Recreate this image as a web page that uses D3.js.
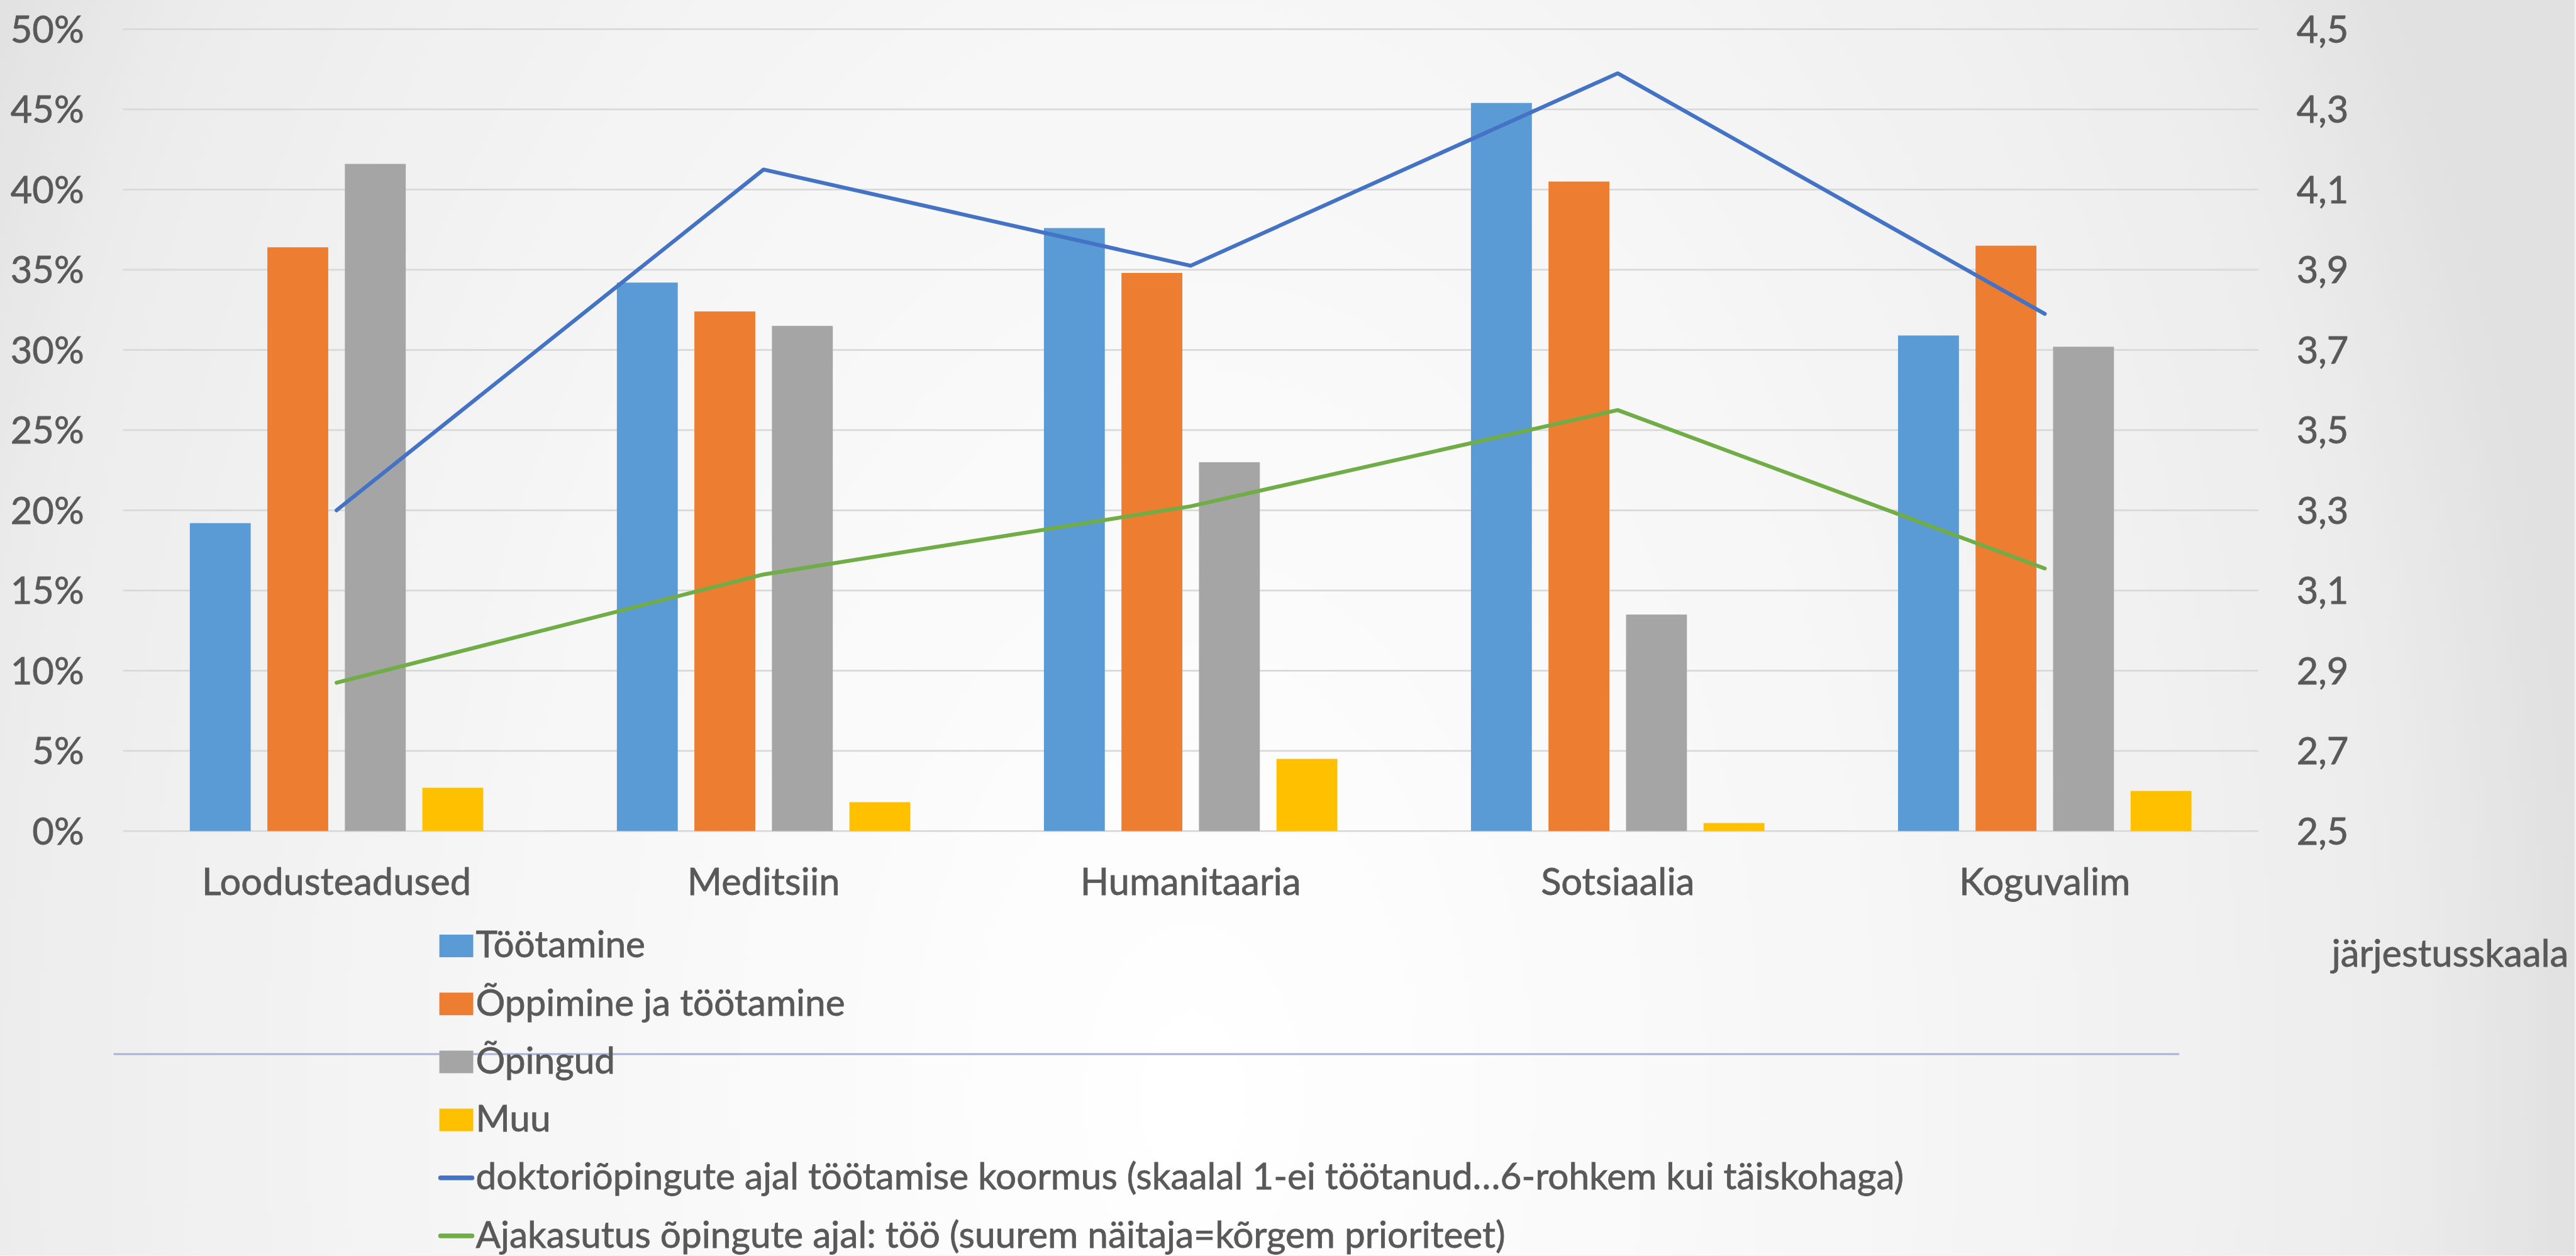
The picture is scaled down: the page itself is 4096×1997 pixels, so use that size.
<!DOCTYPE html>
<html>
<head>
<meta charset="utf-8">
<script src="https://cdn.jsdelivr.net/npm/d3@7"></script>
<style>
  html, body { margin: 0; padding: 0; background: #f2f2f2; overflow: hidden; }
  svg { display: block; }
</style>
</head>
<body>
<svg id="chart" width="4096" height="1997"></svg>
<script>
// ---- data ----
const categories = ["Loodusteadused", "Meditsiin", "Humanitaaria", "Sotsiaalia", "Koguvalim"];
const barSeriesNames = ["Töötamine", "Õppimine ja töötamine", "Õpingud", "Muu"];
const tootamine = [0.192, 0.342, 0.376, 0.454, 0.309];
const oppimineJaTootamine = [0.364, 0.324, 0.348, 0.405, 0.365];
const opingud = [0.416, 0.315, 0.230, 0.135, 0.302];
const muu = [0.027, 0.018, 0.045, 0.005, 0.025];
const lineSeriesNames = [
  "doktoriõpingute ajal töötamise koormus (skaalal 1-ei töötanud…6-rohkem kui täiskohaga)",
  "Ajakasutus õpingute ajal: töö (suurem näitaja=kõrgem prioriteet)"
];
const koormus = [3.30, 4.15, 3.91, 4.39, 3.79];
const ajakasutus = [2.87, 3.14, 3.31, 3.55, 3.155];
const leftTicks = [0, 0.05, 0.10, 0.15, 0.20, 0.25, 0.30, 0.35, 0.40, 0.45, 0.50];
const rightTicks = [2.5, 2.7, 2.9, 3.1, 3.3, 3.5, 3.7, 3.9, 4.1, 4.3, 4.5];
const rightAxisTitle = "järjestusskaala";

const barColors = ["#5B9BD5", "#ED7D31", "#A5A5A5", "#FFC000"];
const lineColors = ["#4472C4", "#70AD47"];
const barData = [tootamine, oppimineJaTootamine, opingud, muu];
const lineData = [koormus, ajakasutus];

// ---- layout (reference pixel space, scaled by 0.998) ----
const S = 0.998;
const svg = d3.select("#chart");
const defs = svg.append("defs");
const grad = defs.append("radialGradient")
  .attr("id", "bg").attr("gradientUnits", "userSpaceOnUse")
  .attr("cx", 1900).attr("cy", 1750).attr("r", 2200)
  .attr("gradientTransform", "translate(1900,1750) scale(1,1.6) translate(-1900,-1750)");
[[0, "#ffffff"], [0.5, "#f6f6f6"], [0.77, "#efefef"], [0.87, "#ececec"], [1, "#e1e1e1"]]
  .forEach(([o, c]) => grad.append("stop").attr("offset", o).attr("stop-color", c));

const root = svg.append("g").attr("transform", `scale(${S})`);
root.append("rect").attr("x", 0).attr("y", 0).attr("width", 4102).attr("height", 2000).attr("fill", "url(#bg)");

const FONT = "Lato, 'Open Sans', sans-serif";
const TXT = "#595959";
const TSTROKE = 0.8;

function fitSize(str, target) {
  const p = root.append("text").attr("font-family", FONT).attr("font-size", 100).text(str);
  const w = p.node().getComputedTextLength();
  p.remove();
  return 100 * target / w;
}
const FS = fitSize("Loodusteadused", 429);
const FS_LEG = fitSize(lineSeriesNames[0], 2276);

function styleText(sel, fs) {
  sel.attr("font-family", FONT).attr("font-size", fs).attr("fill", TXT)
     .attr("stroke", TXT).attr("stroke-width", TSTROKE);
}

const plot = { left: 196, right: 3598, top: 46.5, bottom: 1324 };
const x0 = d3.scaleBand().domain(categories).range([plot.left, plot.right]).paddingInner(0).paddingOuter(0);
const bw = x0.bandwidth();
const groupW = 467.5;
const x1 = d3.scaleBand().domain(barSeriesNames)
  .range([(bw - groupW) / 2, (bw + groupW) / 2]).paddingInner(26.5 / 123.5).paddingOuter(0);
const yL = d3.scaleLinear().domain([0, 0.5]).range([plot.bottom, plot.top]);
const yR = d3.scaleLinear().domain([2.5, 4.5]).range([plot.bottom, plot.top]);

// gridlines
root.append("g").selectAll("line").data(leftTicks).join("line")
  .attr("x1", plot.left).attr("x2", plot.right)
  .attr("y1", d => yL(d)).attr("y2", d => yL(d))
  .attr("stroke", "#d9d9d9").attr("stroke-width", 2.6);

// left axis
const fmtPct = d => Math.round(d * 100) + "%";
const leftAxis = d3.axisLeft(yL).tickValues(leftTicks).tickFormat(fmtPct).tickSize(0).tickPadding(0);
const gl = root.append("g").attr("transform", `translate(134,0)`).call(leftAxis);
gl.select(".domain").remove();
styleText(gl.selectAll("text").attr("dy", "0.35em").attr("x", 0), FS);

// right axis
const fmtDec = d => d3.format(".1f")(d).replace(".", ",");
const rightAxis = d3.axisRight(yR).tickValues(rightTicks).tickFormat(fmtDec).tickSize(0).tickPadding(0);
const gr = root.append("g").attr("transform", `translate(3659,0)`).call(rightAxis);
gr.select(".domain").remove();
styleText(gr.selectAll("text").attr("dy", "0.35em").attr("x", 0), FS);

// bottom axis (category labels)
const bottomAxis = d3.axisBottom(x0).tickSize(0).tickPadding(0);
const gb = root.append("g").attr("transform", `translate(0,1426)`).call(bottomAxis);
gb.select(".domain").remove();
styleText(gb.selectAll("text").attr("dy", 0).attr("y", 0), FS);

// bars
const barG = root.append("g");
categories.forEach((cat, ci) => {
  barSeriesNames.forEach((s, si) => {
    const v = barData[si][ci];
    barG.append("rect")
      .attr("x", x0(cat) + x1(s))
      .attr("y", yL(v))
      .attr("width", x1.bandwidth())
      .attr("height", yL(0) - yL(v))
      .attr("fill", barColors[si]);
  });
});

// lines
const lineGen = d3.line()
  .x((d, i) => x0(categories[i]) + bw / 2)
  .y(d => yR(d));
lineData.forEach((arr, li) => {
  root.append("path").datum(arr).attr("d", lineGen)
    .attr("fill", "none").attr("stroke", lineColors[li]).attr("stroke-width", 6.2)
    .attr("stroke-linejoin", "round").attr("stroke-linecap", "round");
});

// separator line
root.append("line").attr("x1", 181).attr("x2", 3472).attr("y1", 1679.3).attr("y2", 1679.3)
  .attr("stroke", "#a8b3d3").attr("stroke-width", 3);

// legend
const legendItems = barSeriesNames.map((n, i) => ({ name: n, type: "bar", color: barColors[i] }))
  .concat(lineSeriesNames.map((n, i) => ({ name: n, type: "line", color: lineColors[i] })));
const legY = d3.scalePoint().domain(d3.range(legendItems.length)).range([1507, 1969]);
const leg = root.append("g");
legendItems.forEach((it, i) => {
  const cy = legY(i);
  if (it.type === "bar") {
    leg.append("rect").attr("x", 700).attr("y", cy - 18).attr("width", 54).attr("height", 36).attr("fill", it.color);
  } else {
    leg.append("line").attr("x1", 702).attr("x2", 752).attr("y1", cy).attr("y2", cy)
      .attr("stroke", it.color).attr("stroke-width", 7.5).attr("stroke-linecap", "round");
  }
  styleText(leg.append("text").attr("x", 758).attr("y", cy + 18.5).text(it.name), FS_LEG);
});

// right axis title
styleText(root.append("text").attr("x", 3715).attr("y", 1540).text(rightAxisTitle), FS);
</script>
</body>
</html>
